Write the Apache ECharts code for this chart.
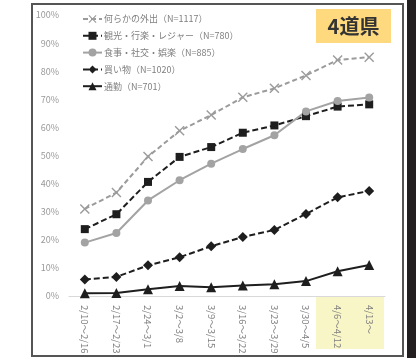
<!DOCTYPE html>
<html>
<head>
<meta charset="utf-8">
<script src="https://cdn.jsdelivr.net/npm/echarts@6/dist/echarts.min.js"></script>
<style>
  html, body { margin: 0; padding: 0; background: #ffffff; }
  #chart { width: 416px; height: 358px; }
</style>
</head>
<body>
<div id="chart"></div>
<script>
// Weekly periods
var categories = ['2/10～2/16', '2/17～2/23', '2/24～3/1', '3/2～3/8', '3/9～3/15',
                  '3/16～3/22', '3/23～3/29', '3/30～4/5', '4/6～4/12', '4/13～'];

// Share of respondents refraining from each kind of outing (%)
var anyOuting    = [31.0, 36.8, 49.6, 58.8, 64.4, 70.7, 73.9, 78.5, 84.0, 85.0];
var leisure      = [23.8, 29.1, 40.6, 49.5, 53.0, 58.1, 60.7, 64.0, 67.4, 68.2];
var dining       = [19.0, 22.4, 34.0, 41.2, 47.1, 52.3, 57.2, 65.7, 69.4, 70.6];
var shopping     = [5.9, 6.8, 10.9, 13.8, 17.7, 21.0, 23.5, 29.2, 35.1, 37.4];
var commuting    = [1.0, 1.1, 2.4, 3.6, 3.1, 3.7, 4.2, 5.3, 8.8, 11.0];

var seriesNames = ['何らかの外出（N=1117）', '観光・行楽・レジャー（N=780）',
                   '食事・社交・娯楽（N=885）', '買い物（N=1020）', '通勤（N=701）'];

var yTicks = [0, 10, 20, 30, 40, 50, 60, 70, 80, 90, 100];

var crossPath = 'path://M0,1 L1,0 L5,4 L9,0 L10,1 L6,5 L10,9 L9,10 L5,6 L1,10 L0,9 L4,5 Z';

var chart = echarts.init(document.getElementById('chart'), null, { renderer: 'canvas' });

function lineSeries(name, data, color, type, symbol, size, width) {
  return {
    name: name,
    type: 'line',
    data: data,
    symbol: symbol,
    symbolSize: size,
    showAllSymbol: true,
    lineStyle: { color: color, width: width, type: type },
    itemStyle: { color: color },
    z: 3
  };
}

chart.setOption({
  animation: false,
  textStyle: { fontFamily: '"Noto Sans CJK JP", "Noto Sans", sans-serif' },
  grid: { left: 69, top: 15, width: 316, height: 281, containLabel: false },
  legend: {
    orient: 'vertical',
    left: 77,
    top: 8,
    itemWidth: 19,
    itemHeight: 10,
    itemGap: 4.8,
    textStyle: { fontSize: 9, lineHeight: 12, color: '#7f7f7f', padding: [0, 0, 0, -3] },
    data: seriesNames
  },
  xAxis: {
    type: 'category',
    data: categories,
    boundaryGap: true,
    axisLine: { lineStyle: { color: '#d9d9d9', width: 1 } },
    axisTick: { show: false },
    axisLabel: { rotate: -90, color: '#808080', fontSize: 9.5, margin: 9, interval: 0 },
    splitLine: { show: false }
  },
  yAxis: {
    type: 'value',
    min: yTicks[0],
    max: yTicks[yTicks.length - 1],
    interval: 10,
    axisLine: { show: false },
    axisTick: { show: false },
    splitLine: { show: false },
    axisLabel: { formatter: '{value}%', color: '#999999', fontSize: 9, margin: 10 }
  },
  graphic: [
    // outer frame
    { type: 'rect', z: -20, shape: { x: 32, y: 4, width: 371, height: 352 },
      style: { fill: '#ffffff', stroke: '#555555', lineWidth: 2 } },
    // highlight behind the latest two periods
    { type: 'rect', z: -10, shape: { x: 316, y: 297, width: 68, height: 52 },
      style: { fill: '#f8f6c6' } },
    // region badge
    { type: 'rect', z: 10, shape: { x: 316, y: 9, width: 75, height: 34 },
      style: { fill: '#fed97d' } },
    { type: 'text', z: 11, x: 353.5, y: 26,
      style: { text: '4道県', align: 'center', verticalAlign: 'middle',
               fill: '#333333', font: 'bold 20px "Noto Sans CJK JP", sans-serif' } },
    // dark strip on the right edge
    { type: 'rect', z: 10, shape: { x: 407, y: 0, width: 9, height: 358 },
      style: { fill: '#231f20' } }
  ],
  series: [
    lineSeries(seriesNames[0], anyOuting, '#9b9b9b', [5, 3], crossPath, 10, 2),
    lineSeries(seriesNames[1], leisure, '#1e1e1e', [6, 3], 'rect', 8, 2),
    lineSeries(seriesNames[2], dining, '#a3a3a3', 'solid', 'circle', 8, 2),
    lineSeries(seriesNames[3], shopping, '#1e1e1e', [6, 3], 'diamond', 10, 2),
    lineSeries(seriesNames[4], commuting, '#1e1e1e', 'solid', 'triangle', 10, 2)
  ]
});
</script>
</body>
</html>
